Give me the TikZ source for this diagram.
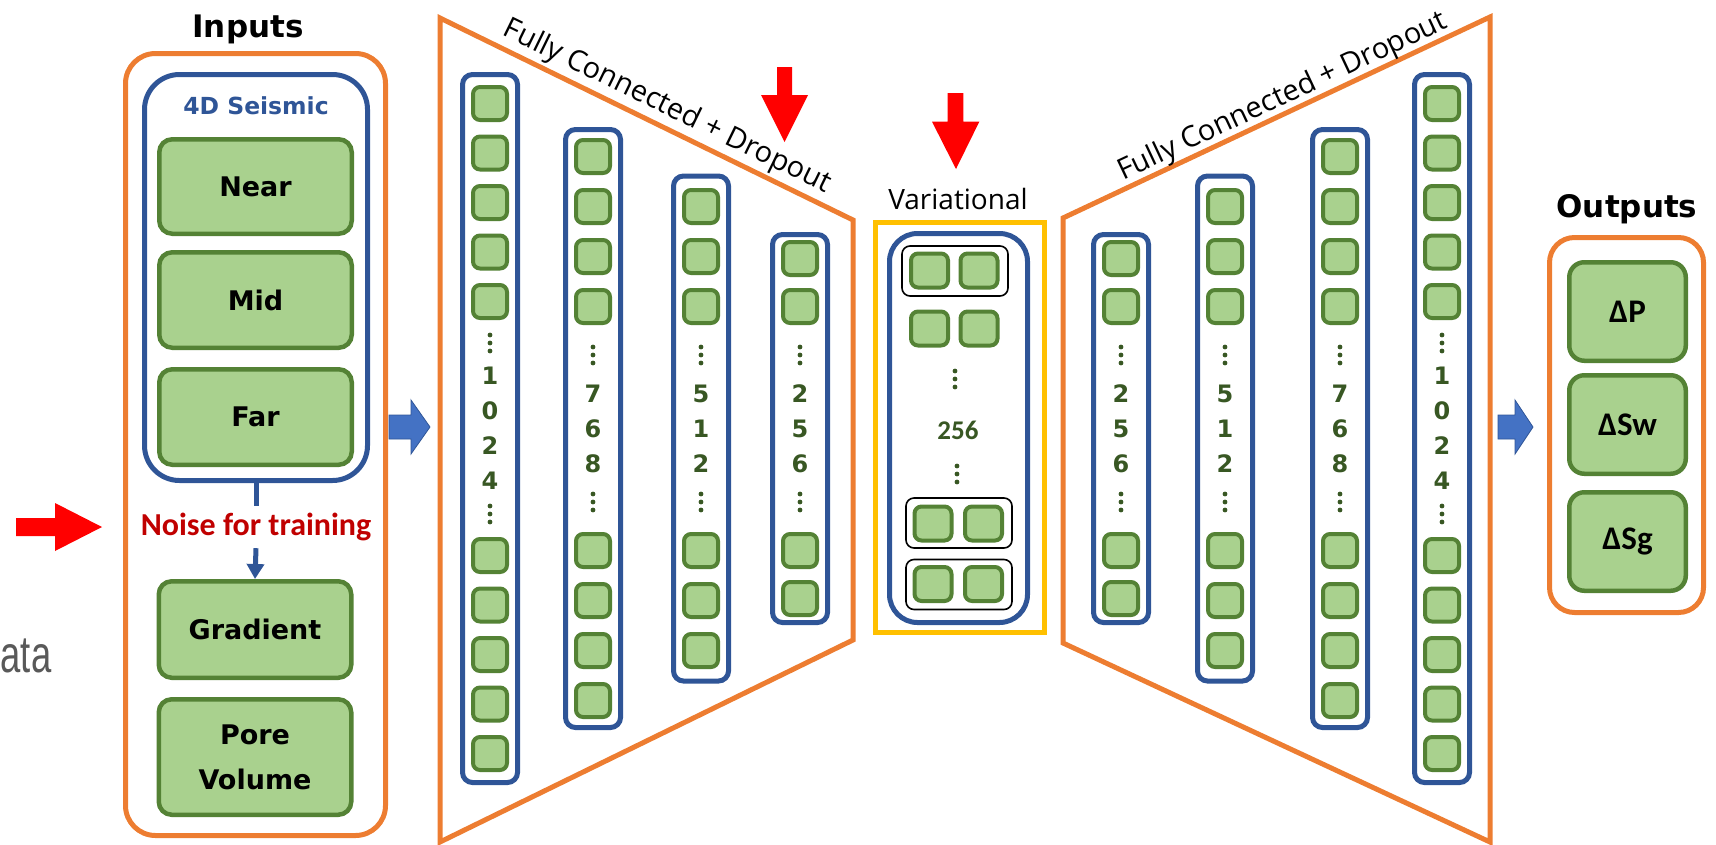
\documentclass[tikz,border=0pt]{standalone}
\usepackage{fontspec}
\usetikzlibrary{arrows.meta}
\newfontfamily\dvsans{DejaVu Sans}
\newfontfamily\carl{Carlito}
\newfontfamily\osans{Open Sans}
\newfontfamily\lsans{Liberation Sans}
\definecolor{corange}{HTML}{ED7D31}
\definecolor{cblue}{HTML}{2F5597}
\definecolor{gfill}{HTML}{A9D18E}
\definecolor{gline}{HTML}{548235}
\definecolor{numgreen}{HTML}{385723}
\definecolor{cred}{HTML}{FF0000}
\definecolor{dred}{HTML}{C00000}
\definecolor{cyellow}{HTML}{FFC000}
\definecolor{ablue}{HTML}{4472C4}
\definecolor{cgrey}{HTML}{595959}

% #1 name, #2 cx, #3 box height, #4 last index, #5 inner offset, #6 pitch, #7 top dots y, #8 first digit y, #9 digits
\newcommand{\nncol}[9]{%
  \node[colbox, minimum height=#3pt] (#1box) at (#2,428.5) {};
  \foreach \k in {0,...,#4}{%
    \node[sq] (#1t\k) at (#2,{428.5-#5-#6*\k}) {};
    \node[sq] (#1b\k) at (#2,{428.5+#5+#6*\k}) {};
  }
  \foreach \d [count=\i] in {#9}{%
    \node[digit] (#1d\i) at (#2,{#8+35*(\i-1)}) {\d};
  }
  \foreach \j in {-1,0,1}{%
    \fill[numgreen] (#2,{#7+8*\j}) circle (2.4pt);
    \fill[numgreen] (#2,{857-#7+8*\j}) circle (2.4pt);
  }
}

\begin{document}
\begin{tikzpicture}[x=1pt,y=-1pt,
  greenbox/.style={draw=gline, fill=gfill, line width=4.5pt, rounded corners=13pt, minimum width=192.5pt, inner sep=0pt, align=center, font=\dvsans\bfseries\fontsize{27}{45}\selectfont},
  outgreen/.style={draw=gline, fill=gfill, line width=4.5pt, rounded corners=15pt, minimum width=116.5pt, minimum height=98.5pt, inner sep=0pt, font=\carl\bfseries\fontsize{33}{36}\selectfont},
  sq/.style={draw=gline, fill=gfill, line width=4pt, rounded corners=7pt, minimum width=34pt, minimum height=33pt, inner sep=0pt},
  vsq/.style={sq, minimum width=37pt, minimum height=34pt},
  colbox/.style={draw=cblue, fill=white, line width=5pt, rounded corners=10pt, minimum width=55pt, inner sep=0pt},
  digit/.style={text=numgreen, inner sep=0pt, font=\dvsans\bfseries\fontsize{24}{24}\selectfont},
  orangebox/.style={draw=corange, line width=5pt, inner sep=0pt},
  pairbox/.style={draw=black, line width=1.6pt, rounded corners=8pt, minimum width=106pt, minimum height=50pt, inner sep=0pt},
  title/.style={font=\dvsans\bfseries\fontsize{31}{36}\selectfont, inner sep=0pt, anchor=base},
  fclabel/.style={font=\osans\fontsize{29}{32}\selectfont, inner sep=0pt},
  redarrow/.style={fill=cred},
  bluearrow/.style={fill=ablue, draw=cblue, line width=0.8pt},
  seisline/.style={draw=cblue, line width=5pt},
  trap/.style={draw=corange, line width=5pt, line join=miter}
]
\useasboundingbox (0,0) rectangle (1716,844);

% cut-off grey text
\node[anchor=base west, inner sep=0pt, text=cgrey, font=\lsans\fontsize{52}{56}\selectfont] (datatxt) at (0.5,672) {\scalebox{0.7}[1]{ata}};

% ---------- Inputs ----------
\node[title] (intitle) at (248,37) {Inputs};
\node[orangebox, rounded corners=30pt, minimum width=260pt, minimum height=782pt] (inbox) at (255.5,444.5) {};
\node[draw=cblue, line width=5pt, rounded corners=35pt, minimum width=223pt, minimum height=406pt, inner sep=0pt] (seis) at (256,277.5) {};
\node[text=cblue, font=\dvsans\bfseries\fontsize{23.5}{28}\selectfont, inner sep=0pt] (seistxt) at (256,106) {4D Seismic};
\node[greenbox, minimum height=94.5pt] (near) at (255.5,186.5) {Near};
\node[greenbox, minimum height=95.5pt] (mid) at (255.5,300) {Mid};
\node[greenbox, minimum height=95.5pt] (far) at (255.5,417) {Far};
\node[text=dred, font=\carl\bfseries\fontsize{32}{36}\selectfont, inner sep=0pt, minimum height=42pt] (noise) at (256,527) {Noise for training};
\node[greenbox, minimum height=96.5pt] (grad) at (255,629.5) {Gradient};
\node[greenbox, minimum height=115.5pt] (pore) at (255,757) {Pore\\Volume};
\draw[seisline] (seis.south) -- (noise.north);
\draw[seisline, -{Triangle[width=17pt,length=15pt]}] (noise.south) -- (grad.north);

% red arrow pointing at noise
\fill[redarrow] (16,518) -- (55,518) -- (55,503) -- (102,527) -- (55,551) -- (55,536) -- (16,536) -- cycle;

% blue arrow into encoder
\filldraw[bluearrow] (389,415) -- (411,415) -- (411,400) -- (430,427) -- (411,454) -- (411,439) -- (389,439) -- cycle;

% ---------- Encoder ----------
\coordinate (e1) at (440,18);
\coordinate (e2) at (853,220);
\coordinate (e3) at (853,640);
\coordinate (e4) at (440,842);
\draw[trap] (e1) -- (e2) -- (e3) -- (e4) -- cycle;
\node[fclabel, rotate=-26.06] (fcleft) at (667,107) {Fully Connected + Dropout};
\fill[redarrow] (777,67) -- (792,67) -- (792,95) -- (808,95) -- (784.5,142) -- (761,95) -- (777,95) -- cycle;

\nncol{La}{490}{708}{4}{127}{49.5}{343}{376}{1,0,2,4}
\nncol{Lb}{593}{598}{3}{122}{50}{355}{393.5}{7,6,8}
\nncol{Lc}{701}{505}{2}{122}{50}{355}{393.5}{5,1,2}
\nncol{Ld}{800}{388}{1}{122}{48}{355}{393.5}{2,5,6}

% ---------- Variational ----------
\fill[redarrow] (947.7,93) -- (963.3,93) -- (963.3,121.7) -- (979.3,121.7) -- (956,169) -- (932,121.7) -- (947.7,121.7) -- cycle;
\node[font=\osans\fontsize{28}{32}\selectfont, inner sep=0pt, anchor=base] (vartxt) at (958,209) {Variational};
\node[draw=cyellow, line width=5pt, minimum width=169pt, minimum height=410pt, inner sep=0pt] (varbox) at (960,427.5) {};
\node[draw=cblue, line width=5pt, rounded corners=28pt, minimum width=138pt, minimum height=389pt, inner sep=0pt] (varin) at (958.5,428) {};
\node[pairbox] (p1) at (955,271) {};
\node[pairbox] (p3) at (959,523) {};
\node[pairbox] (p4) at (959,584.5) {};
\node[vsq] (v1a) at (929.5,270.5) {};
\node[vsq] (v1b) at (979,270.5) {};
\node[vsq] (v2a) at (929.5,328.5) {};
\node[vsq] (v2b) at (979,328.5) {};
\node[vsq] (v3a) at (933,523.5) {};
\node[vsq] (v3b) at (983.5,523.5) {};
\node[vsq] (v4a) at (933,584) {};
\node[vsq] (v4b) at (983.5,584) {};
\foreach \j in {-1,0,1}{%
  \fill[numgreen] (955,{379+8*\j}) circle (2.4pt);
  \fill[numgreen] (957,{474+8*\j}) circle (2.4pt);
}
\node[font=\carl\bfseries\fontsize{27}{30}\selectfont, text=numgreen, inner sep=0pt] (v256) at (958,430) {256};

% ---------- Decoder ----------
\coordinate (d1) at (1063,218);
\coordinate (d2) at (1490,17);
\coordinate (d3) at (1490,842);
\coordinate (d4) at (1063,643);
\draw[trap] (d1) -- (d2) -- (d3) -- (d4) -- cycle;
\node[fclabel, rotate=25.2] (fcright) at (1283,97) {Fully Connected + Dropout};

\nncol{Ra}{1121}{388}{1}{122}{48}{355}{393.5}{2,5,6}
\nncol{Rb}{1225}{505}{2}{122}{50}{355}{393.5}{5,1,2}
\nncol{Rc}{1340}{598}{3}{122}{50}{355}{393.5}{7,6,8}
\nncol{Rd}{1442}{708}{4}{127}{49.5}{343}{376}{1,0,2,4}

% blue arrow to outputs
\filldraw[bluearrow] (1498,415) -- (1515,415) -- (1515,400) -- (1533,427) -- (1515,454) -- (1515,439) -- (1498,439) -- cycle;

% ---------- Outputs ----------
\node[title] (outtitle) at (1627,217) {Outputs};
\node[orangebox, rounded corners=25pt, minimum width=154pt, minimum height=375pt] (outbox) at (1626.5,425) {};
\node[outgreen] (dp) at (1627.5,311.5) {ΔP};
\node[outgreen] (dsw) at (1627.5,424.5) {ΔSw};
\node[outgreen] (dsg) at (1627.5,541.5) {ΔSg};
\end{tikzpicture}
\end{document}
